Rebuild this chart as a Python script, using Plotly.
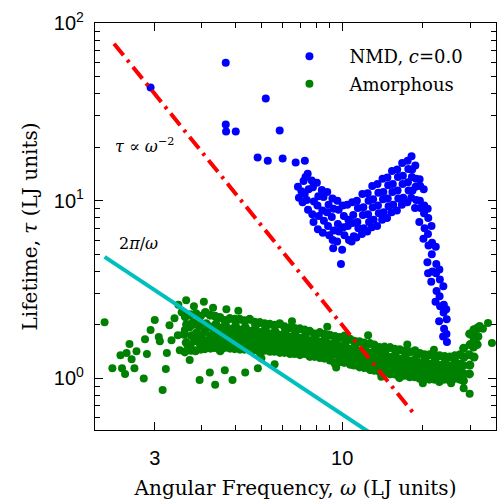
import plotly.graph_objects as go

# ---------------- data ----------------
# NMD, c=0.0 (blue)
nmd_omega = [
    1.93, 3.68, 3.68, 3.69, 4.01, 5.19, 5.85,
    4.84, 5.28, 6.00, 6.71, 7.26,
    6.84, 6.90, 7.05,
    7.18, 7.12, 7.25, 7.30,
    7.44, 7.50, 7.38, 7.46,
    7.70, 7.78, 7.85, 7.74, 7.82,
    8.05, 8.15, 8.09, 8.18, 8.12,
    8.40, 8.52, 8.44, 8.55, 8.47,
    8.80, 8.90, 8.78, 8.86, 8.95,
    9.20, 9.28, 9.15, 9.30, 9.22, 9.26,
    9.60, 9.70, 9.64, 9.72, 9.58,
    9.90,
    10.05, 10.15, 10.10, 10.20, 10.00,
    10.45, 10.55, 10.50, 10.60,
    10.90, 11.00, 10.95, 11.05, 10.85,
    11.35, 11.45, 11.40, 11.50, 11.30,
    11.90, 12.00, 11.95, 12.05, 11.85,
    12.45, 12.55, 12.50, 12.60, 12.40,
    12.95, 13.05, 13.00, 13.10, 12.90,
    13.55, 13.65, 13.60, 13.70, 13.50,
    14.15, 14.25, 14.20, 14.30, 14.10,
    14.75, 14.85, 14.80, 14.90, 14.70,
    15.35, 15.45, 15.40, 15.50, 15.30,
    16.05, 16.15, 16.10, 16.20, 16.00,
    16.75, 16.85, 16.80, 16.90, 16.70,
    17.55, 17.65, 17.60, 17.70, 17.50,
    18.15, 18.25, 18.20, 18.30, 18.10,
    18.75, 18.85, 18.80, 18.90, 18.70,
    19.45, 19.55, 19.50, 19.60, 19.40,
    20.15, 20.25, 20.20, 20.30, 20.10,
    20.85, 20.95, 20.90, 21.00, 20.80, 20.92,
    21.55, 21.65, 21.60, 21.70, 21.50,
    22.35, 22.45, 22.40, 22.50, 22.30,
    23.05, 23.15, 23.10, 23.20, 23.00,
    23.85, 23.95, 23.90, 24.00, 23.80,
    24.45, 24.55, 24.50, 24.60,
]
nmd_tau = [
    43.3, 59.8, 26.8, 24.5, 24.5, 37.6, 24.8,
    17.5, 16.8, 17.3, 16.4, 16.8,
    12.0, 10.4, 11.3,
    12.9, 9.8, 10.9, 13.6,
    14.2, 11.6, 10.1, 8.9,
    13.0, 11.9, 9.9, 8.4, 7.6,
    12.6, 10.6, 9.4, 8.2, 6.9,
    11.5, 10.5, 8.8, 7.7, 6.6,
    11.2, 9.5, 8.6, 7.2, 6.4,
    10.3, 9.0, 8.1, 6.8, 6.0, 5.4,
    10.0, 8.9, 7.4, 6.7, 5.9,
    4.4,
    9.4, 8.2, 7.1, 6.4, 5.3,
    9.5, 7.8, 7.2, 6.0,
    9.8, 8.3, 7.5, 6.3, 5.9,
    10.0, 9.1, 7.6, 7.0, 6.2,
    10.9, 9.2, 8.3, 7.0, 6.5,
    11.0, 10.0, 8.4, 7.6, 6.7,
    12.1, 10.2, 9.2, 7.8, 7.1,
    12.4, 11.1, 9.4, 8.5, 7.2,
    13.3, 11.2, 10.2, 8.6, 7.8,
    13.5, 12.2, 10.3, 9.3, 8.0,
    14.7, 12.4, 11.2, 9.5, 8.6,
    15.0, 13.6, 11.4, 10.3, 8.8,
    16.3, 13.8, 12.4, 10.4, 9.5,
    16.8, 15.1, 12.7, 11.4, 9.8,
    17.8, 15.0, 13.6, 11.4, 10.4,
    15.8, 13.3, 12.0, 10.1, 9.1,
    13.2, 12.1, 10.0, 9.1, 7.6,
    11.6, 9.4, 8.5, 7.0, 6.1,
    9.0, 8.0, 6.5, 5.6, 4.5, 3.9,
    7.2, 5.8, 5.0, 4.0, 3.5,
    5.5, 4.4, 3.9, 3.1, 2.7,
    4.1, 3.6, 2.9, 2.55, 2.1,
    3.3, 2.6, 2.35, 1.9, 1.72,
    2.45, 2.15, 1.78, 1.6,
]

# Amorphous (green): scattered points
amo_sparse_omega = [
    1.30, 1.39, 1.51, 1.55, 1.49, 1.57, 1.61, 1.71, 1.64, 1.68, 1.84, 1.87, 1.82,
    2.07, 2.09, 2.14, 2.20, 2.22, 1.93, 2.00,
    2.27, 2.31, 2.37, 2.44, 2.48, 2.52, 2.59, 2.65, 2.70, 2.77,
    2.94, 3.21, 3.36, 3.65, 3.90, 4.35, 4.85, 5.60,
    2.45, 2.62, 2.80, 3.05, 3.30, 3.70, 4.10,
    6.5, 8.8, 12.5, 17.5, 22.0, 5.0, 9.5, 14.0, 20.0, 25.5,
    28.4, 29.9, 32.6, 35.0, 36.2, 33.5,
]
amo_sparse_tau = [
    2.07, 1.14, 1.14, 1.06, 1.35, 1.39, 1.56, 1.42, 1.28, 1.14, 1.66, 1.37, 1.00,
    1.71, 1.62, 0.86, 1.13, 1.39, 1.87, 2.13,
    1.99, 1.64, 2.18, 1.75, 1.44, 2.36, 1.87, 1.54, 1.27, 2.07,
    0.98, 1.08, 0.92, 1.11, 0.98, 1.08, 1.14, 1.20,
    2.60, 2.75, 2.55, 2.70, 2.50, 2.45, 2.40,
    2.10, 1.95, 1.75, 1.55, 1.45, 1.30, 1.15, 1.02, 0.94, 0.94,
    0.88, 0.82, 1.97, 2.05, 1.58, 1.90,
]
# Amorphous (green): dense band
amo_band_omega = [
    2.60, 2.63, 2.57, 2.62, 2.59,
    2.72, 2.70, 2.74, 2.71, 2.73,
    2.85, 2.83, 2.86, 2.82, 2.84,
    2.96, 2.94, 2.98, 2.95, 2.97,
    3.09, 3.11, 3.07, 3.10, 3.08,
    3.22, 3.20, 3.24, 3.21, 3.23,
    3.36, 3.38, 3.34, 3.37, 3.35,
    3.50, 3.48, 3.52, 3.49, 3.51,
    3.65, 3.67, 3.63, 3.66, 3.64,
    3.81, 3.79, 3.83, 3.80, 3.82,
    3.98, 4.00, 3.96, 3.99, 3.97,
    4.15, 4.13, 4.17, 4.14, 4.16,
    4.33, 4.35, 4.31, 4.34, 4.32,
    4.52, 4.50, 4.54, 4.51, 4.53,
    4.72, 4.74, 4.70, 4.73, 4.71,
    4.93, 4.91, 4.95, 4.92, 4.94,
    5.14, 5.16, 5.12, 5.15, 5.13,
    5.37, 5.35, 5.39, 5.36, 5.38,
    5.60, 5.62, 5.58, 5.61, 5.59,
    5.85, 5.83, 5.87, 5.84, 5.86,
    6.10, 6.12, 6.08, 6.11, 6.09,
    6.38, 6.36, 6.40, 6.37, 6.39,
    6.65, 6.67, 6.63, 6.66, 6.64,
    6.95, 6.93, 6.97, 6.94, 6.96,
    7.25, 7.27, 7.23, 7.26, 7.24,
    7.57, 7.55, 7.59, 7.56, 7.58,
    7.90, 7.92, 7.88, 7.91, 7.89,
    8.25, 8.23, 8.27, 8.24, 8.26,
    8.60, 8.62, 8.58, 8.61, 8.59,
    9.00, 8.98, 9.02, 8.99, 9.01,
    9.40, 9.42, 9.38, 9.41, 9.39,
    9.80, 9.78, 9.82, 9.79, 9.81,
    10.2, 10.25, 10.15, 10.22, 10.18,
    10.7, 10.65, 10.75, 10.68, 10.72,
    11.1, 11.15, 11.05, 11.12, 11.08,
    11.6, 11.55, 11.65, 11.58, 11.62,
    12.1, 12.15, 12.05, 12.12, 12.08,
    12.7, 12.65, 12.75, 12.68, 12.72,
    13.2, 13.25, 13.15, 13.22, 13.18,
    13.8, 13.75, 13.85, 13.78, 13.82,
    14.4, 14.45, 14.35, 14.42, 14.38,
    15.1, 15.16, 15.04, 15.13, 15.07,
    15.7, 15.76, 15.64, 15.73, 15.67,
    16.4, 16.47, 16.33, 16.43, 16.37,
    17.1, 17.17, 17.03, 17.13, 17.07,
    17.9, 17.98, 17.82, 17.94, 17.86,
    18.7, 18.78, 18.62, 18.74, 18.66,
    19.5, 19.58, 19.42, 19.54, 19.46,
    20.3, 20.39, 20.21, 20.35, 20.25,
    21.2, 21.29, 21.11, 21.25, 21.15,
    22.1, 22.20, 22.00, 22.15, 22.05,
    23.1, 23.20, 23.00, 23.15, 23.05,
    24.1, 24.20, 24.00, 24.15, 24.05,
    25.2, 25.30, 25.10, 25.25, 25.15,
    26.3, 26.40, 26.20, 26.35, 26.25,
    27.5, 27.60, 27.40, 27.55, 27.45,
    28.4, 28.50, 28.30, 28.45, 28.35,
    29.9, 30.00, 29.80, 29.95, 29.85,
    31.0, 31.10, 30.90, 31.05,
    32.0, 32.10, 31.90,
]
amo_band_tau = [
    2.22, 2.01, 1.77, 1.59, 1.41,
    2.28, 1.95, 1.74, 1.54, 1.44,
    2.31, 2.02, 1.80, 1.63, 1.43,
    2.24, 1.97, 1.73, 1.57, 1.46,
    2.35, 2.03, 1.83, 1.63, 1.47,
    2.27, 1.95, 1.74, 1.57, 1.48,
    2.24, 2.02, 1.83, 1.65, 1.49,
    2.20, 1.92, 1.74, 1.57, 1.43,
    2.12, 2.00, 1.81, 1.63, 1.49,
    2.17, 1.89, 1.72, 1.57, 1.48,
    2.15, 1.97, 1.79, 1.62, 1.47,
    2.15, 1.87, 1.70, 1.55, 1.46,
    2.11, 1.94, 1.77, 1.61, 1.46,
    2.15, 1.84, 1.68, 1.53, 1.45,
    2.07, 1.91, 1.74, 1.59, 1.45,
    2.06, 1.81, 1.65, 1.51, 1.40,
    2.03, 1.88, 1.72, 1.57, 1.44,
    2.02, 1.78, 1.62, 1.49, 1.42,
    1.99, 1.84, 1.69, 1.55, 1.42,
    2.03, 1.75, 1.60, 1.47, 1.40,
    1.95, 1.81, 1.66, 1.52, 1.40,
    1.93, 1.71, 1.57, 1.44, 1.38,
    1.91, 1.77, 1.63, 1.50, 1.38,
    1.90, 1.68, 1.54, 1.42, 1.36,
    1.87, 1.73, 1.59, 1.47, 1.38,
    1.84, 1.63, 1.51, 1.39, 1.33,
    1.78, 1.69, 1.56, 1.44, 1.33,
    1.81, 1.60, 1.47, 1.36, 1.31,
    1.77, 1.65, 1.52, 1.41, 1.30,
    1.75, 1.55, 1.43, 1.33, 1.27,
    1.72, 1.60, 1.48, 1.37, 1.22,
    1.70, 1.51, 1.39, 1.29, 1.24,
    1.73, 1.56, 1.44, 1.33, 1.23,
    1.66, 1.46, 1.36, 1.25, 1.20,
    1.62, 1.51, 1.39, 1.29, 1.19,
    1.61, 1.42, 1.31, 1.21, 1.16,
    1.58, 1.47, 1.35, 1.25, 1.15,
    1.57, 1.39, 1.27, 1.17, 1.12,
    1.54, 1.43, 1.31, 1.21, 1.11,
    1.49, 1.35, 1.24, 1.14, 1.09,
    1.50, 1.39, 1.28, 1.18, 1.08,
    1.49, 1.31, 1.20, 1.11, 1.06,
    1.46, 1.35, 1.25, 1.15, 1.06,
    1.45, 1.28, 1.17, 1.09, 1.01,
    1.42, 1.32, 1.22, 1.13, 1.04,
    1.41, 1.25, 1.16, 1.07, 1.02,
    1.43, 1.29, 1.19, 1.10, 1.02,
    1.38, 1.22, 1.13, 1.04, 1.00,
    1.36, 1.27, 1.17, 1.08, 1.00,
    1.36, 1.20, 1.11, 1.03, 0.99,
    1.34, 1.25, 1.16, 1.07, 0.99,
    1.34, 1.18, 1.10, 1.02, 0.96,
    1.33, 1.23, 1.15, 1.06, 0.99,
    1.32, 1.17, 1.09, 1.01, 0.98,
    1.34, 1.24, 1.15, 1.07, 1.00,
    1.36, 1.20, 1.10, 1.03, 0.99,
    1.48, 1.32, 1.18, 1.06, 0.97,
    1.78, 1.55, 1.36, 1.19, 1.06,
    1.88, 1.68, 1.50, 1.32,
    1.92, 1.72, 1.55,
]

# reference lines
slope2_omega = [1.41, 18.9]
slope2_tau = [76.5, 0.61]
twopi_omega = [1.30, 13.0]
twopi_tau = [4.83, 0.483]

# axis ticks
x_tickvals = [2, 10]
x_ticktext = ["3", "10"]
x_minor = [3, 4, 5, 6, 7, 8, 9, 20, 30]
y_tickvals = [1, 10, 100]
y_ticktext = ["10<sup>0</sup>", "10<sup>1</sup>", "10<sup>2</sup>"]
y_minor = [0.6, 0.7, 0.8, 0.9, 2, 3, 4, 5, 6, 7, 8, 9, 20, 30, 40, 50, 60, 70, 80, 90]

SERIF = "DejaVu Serif"
SANS = "Liberation Sans, Arial, sans-serif"
GREEN = "#008000"
BLUE = "#0000FF"

fig = go.Figure()
fig.add_trace(go.Scatter(
    x=amo_band_omega, y=amo_band_tau, mode="markers", showlegend=False,
    marker=dict(color=GREEN, size=9), legendgroup="b"))
fig.add_trace(go.Scatter(
    x=amo_sparse_omega, y=amo_sparse_tau, mode="markers", name="Amorphous",
    marker=dict(color=GREEN, size=8), legendrank=2, legendgroup="b"))
fig.add_trace(go.Scatter(
    x=nmd_omega, y=nmd_tau, mode="markers", name="NMD, <i>c</i>=0.0",
    marker=dict(color=BLUE, size=8), legendrank=1, legendgroup="a"))
fig.add_trace(go.Scatter(
    x=twopi_omega, y=twopi_tau, mode="lines", showlegend=False,
    line=dict(color="#00BFBF", width=4)))
fig.add_trace(go.Scatter(
    x=slope2_omega, y=slope2_tau, mode="lines", showlegend=False,
    line=dict(color="#FF0000", width=4, dash="15px,6px,3px,6px")))

axis_common = dict(
    showline=True, linecolor="black", linewidth=1.3, mirror="ticks",
    ticks="inside", tickcolor="black", tickwidth=1.2, ticklen=8,
    showgrid=False, zeroline=False,
    tickfont=dict(family=SANS, size=20, color="black"),
)

fig.update_xaxes(
    type="log", range=[0.0782, 1.5739],
    tickmode="array", tickvals=x_tickvals, ticktext=x_ticktext,
    ticklabelstandoff=10,
    minor=dict(tickmode="array", tickvals=x_minor, ticks="inside", ticklen=5,
               tickcolor="black", tickwidth=1.2, showgrid=False),
    title=dict(text="Angular Frequency, <i>ω</i> (LJ units)",
               font=dict(family=SERIF, size=20, color="black"), standoff=12),
    **axis_common)
fig.update_yaxes(
    type="log", range=[-0.2904, 2.0],
    tickmode="array", tickvals=y_tickvals, ticktext=y_ticktext,
    ticklabelstandoff=6,
    minor=dict(tickmode="array", tickvals=y_minor, ticks="inside", ticklen=5,
               tickcolor="black", tickwidth=1.2, showgrid=False),
    title=dict(text="Lifetime, <i>τ</i> (LJ units)",
               font=dict(family=SERIF, size=20, color="black"), standoff=10),
    **axis_common)

fig.add_annotation(xref="paper", yref="paper", x=0.045, y=0.698,
                   xanchor="left", yanchor="middle", showarrow=False,
                   text="<i>τ</i> ∝ <i>ω</i><sup>−2</sup>",
                   font=dict(family=SERIF, size=16, color="black"))
fig.add_annotation(xref="paper", yref="paper", x=0.055, y=0.459,
                   xanchor="left", yanchor="middle", showarrow=False,
                   text="2<i>π</i>/<i>ω</i>",
                   font=dict(family=SERIF, size=16, color="black"))

fig.update_layout(
    width=497, height=501,
    margin=dict(l=95, r=1, t=23, b=71),
    paper_bgcolor="white", plot_bgcolor="white",
    showlegend=True,
    legend=dict(x=0.435, y=0.963, xanchor="left", yanchor="top",
                bgcolor="rgba(0,0,0,0)", borderwidth=0, itemwidth=70,
                tracegroupgap=1,
                font=dict(family=SERIF, size=18, color="black")),
)

fig.write_html("out.html")
